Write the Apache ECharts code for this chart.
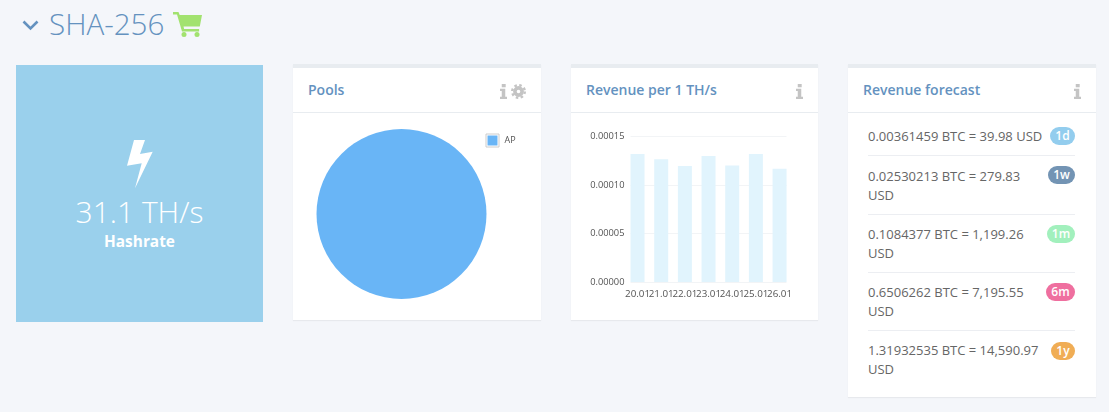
<!DOCTYPE html>
<html><head><meta charset="utf-8">
<script src="https://cdn.jsdelivr.net/npm/echarts@6/dist/echarts.min.js"></script>
<style>
html,body{margin:0;padding:0;width:1109px;height:412px;overflow:hidden;background:#f4f6fa;font-family:"Open Sans",sans-serif}
.abs{position:absolute}
.title{left:49px;top:5px;font-size:29.6px;font-weight:300;color:#6492bf;line-height:38px}
.tile{left:16px;top:65px;width:247px;height:257px;background:#9ad0ec;color:#fff;text-align:center}
.tile .v{position:absolute;left:0;right:0;top:127px;font-size:30px;font-weight:300;line-height:40px}
.tile .l{position:absolute;left:0;right:0;top:166px;font-size:15.4px;font-weight:700;line-height:22px}
.card{background:#fff;border-top:4px solid #e8ecf0;box-shadow:0 1px 1px rgba(0,0,0,.05);box-sizing:border-box}
.card .h{position:absolute;left:0;right:0;top:0;height:44px;border-bottom:1px solid #e8ecf0}
.card .t{position:absolute;left:15px;top:11px;font-size:14px;font-weight:600;color:#6492bf;line-height:22px}
.row{position:absolute;left:20px;font-size:13px;color:#666;line-height:19px}
.sep{position:absolute;left:20px;width:207px;height:1px;background:#eceef2}
.badge{position:absolute;right:21px;height:18px;line-height:17px;border-radius:9px;color:#fff;font-size:12px;font-weight:600;text-align:center}
.chart{position:absolute}
</style></head><body>
<svg class="abs" style="left:22px;top:20px" width="17" height="11" viewBox="0 0 17 11"><path d="M1.5 1.5 L8.5 8.5 L15.5 1.5" fill="none" stroke="#6492bf" stroke-width="2.6"/></svg>
<div class="abs title">SHA-256</div>
<svg class="abs" style="left:173px;top:12px" width="29" height="25" viewBox="0 0 29 25"><path fill="#a2e26f" d="M0 0h5.5l1.2 3H29l-2.2 11.5H10.5l.6 2.5h15v2.5H9L4 2.5H0z"/><circle cx="11" cy="22.5" r="2.5" fill="#a2e26f"/><circle cx="24" cy="22.5" r="2.5" fill="#a2e26f"/></svg>

<div class="abs tile">
<svg class="abs" style="left:111px;top:75px" width="26" height="49" viewBox="0 0 26 49"><path fill="#fff" d="M7 0H18L13 14 25.700 11.700 8 48.300 14.700 23.300 0 25.700z"/></svg>
<div class="v">31.1 TH/s</div><div class="l">Hashrate</div>
</div>

<div class="abs card" style="left:293px;top:64px;width:248px;height:256px"><div class="h"></div><div class="t">Pools</div>
<svg class="abs" style="left:206.500px;top:16px" width="7" height="15" viewBox="0 0 8 16" preserveAspectRatio="none"><rect x="2" width="4.500" height="3.500" fill="#c4c4c4"/><path fill="#c4c4c4" d="M0 5h6v8.500h2V16H0v-2.500h2V7.500H0z"/></svg>
<svg class="abs" style="left:218px;top:16px" width="15" height="15" viewBox="0 0 15 15"><circle cx="7.500" cy="7.500" r="3.600" fill="none" stroke="#c4c4c4" stroke-width="3.600"/><circle cx="7.500" cy="7.500" r="6.300" fill="none" stroke="#c4c4c4" stroke-width="2.400" stroke-dasharray="2.500 2.450"/></svg>
</div>
<div class="abs card" style="left:571px;top:64px;width:247px;height:256px"><div class="h"></div><div class="t">Revenue per 1 TH/s</div>
<svg class="abs" style="left:225px;top:16px" width="7" height="15" viewBox="0 0 8 16" preserveAspectRatio="none"><rect x="2" width="4.500" height="3.500" fill="#c4c4c4"/><path fill="#c4c4c4" d="M0 5h6v8.500h2V16H0v-2.500h2V7.500H0z"/></svg>
</div>
<div class="abs card" id="fc" style="left:848px;top:64px;width:248px;height:333px"><div class="h"></div><div class="t">Revenue forecast</div>
<svg class="abs" style="left:226px;top:16px" width="7" height="15" viewBox="0 0 8 16" preserveAspectRatio="none"><rect x="2" width="4.500" height="3.500" fill="#c4c4c4"/><path fill="#c4c4c4" d="M0 5h6v8.500h2V16H0v-2.500h2V7.500H0z"/></svg>
</div>

<div class="chart" id="pie" style="left:293px;top:113px;width:248px;height:205px"></div>
<div class="chart" id="bar" style="left:571px;top:113px;width:247px;height:205px"></div>

<script>
var poolNames = ['AP'];
var poolShares = [100];
var days = ['20.01','21.01','22.01','23.01','24.01','25.01','26.01'];
var revenue = [0.000132,0.0001265,0.0001196,0.00013,0.00012,0.000132,0.0001168];
var forecastText = ['0.00361459 BTC = 39.98 USD','0.02530213 BTC = 279.83 USD','0.1084377 BTC = 1,199.26 USD','0.6506262 BTC = 7,195.55 USD','1.31932535 BTC = 14,590.97 USD'];
var forecastBadge = ['1d','1w','1m','6m','1y'];
var badgeColor = ['#93cdee','#7394b4','#a2f0bd','#ef6f9f','#f0ad55'];
var rowTop = [59,99,157,215,273];
var badgeTop = [59,98,157,215,274];
var rowWidth = [180,175,175,175,180];
var badgeW = [25,27,28,29,24];
var sepTop = [87,146,204,262];

var fc = document.getElementById('fc');
forecastText.forEach(function(t,i){
  var r=document.createElement('div');r.className='row';r.style.top=rowTop[i]+'px';
  r.style.width=rowWidth[i]+'px';r.textContent=t;fc.appendChild(r);
  var b=document.createElement('div');b.className='badge';b.style.top=badgeTop[i]+'px';b.style.width=badgeW[i]+'px';
  b.style.background=badgeColor[i];b.textContent=forecastBadge[i];fc.appendChild(b);
});
sepTop.forEach(function(y){var s=document.createElement('div');s.className='sep';s.style.top=y+'px';fc.appendChild(s);});

var F='"Open Sans",sans-serif';
echarts.init(document.getElementById('pie')).setOption({
  animation:false,
  graphic:[{type:'rect',left:192.5,top:20.5,shape:{width:13,height:13},style:{fill:'#fff',stroke:'#ccc',lineWidth:1}}],
  legend:{data:poolNames,left:194.5,top:22.5,orient:'vertical',itemWidth:10,itemHeight:10,itemGap:4,icon:'rect',selectedMode:false,
    textStyle:{fontSize:9,color:'#545454',fontFamily:F,padding:[0,0,0,2]},padding:0},
  series:[{type:'pie',radius:85,center:[108.5,101],silent:true,label:{show:false},labelLine:{show:false},
    itemStyle:{color:'#69b5f6'},
    data:poolNames.map(function(n,i){return {name:n,value:poolShares[i]};})}]
});
echarts.init(document.getElementById('bar')).setOption({
  animation:false,
  grid:[{left:59.500,width:156,top:23.500,height:145.500},{left:54.700,width:165.700,top:23.500,height:145.500}],
  xAxis:[{type:'category',gridIndex:0,data:days,show:false},
    {type:'category',gridIndex:1,data:days,axisLine:{show:false},axisTick:{show:false},
     axisLabel:{interval:0,hideOverlap:false,fontSize:9.8,color:'#545454',fontFamily:F,margin:7}}],
  yAxis:[{type:'value',gridIndex:0,min:0,max:0.00015,interval:0.00005,axisLine:{show:false},axisTick:{show:false},
     axisLabel:{formatter:function(v){return v.toFixed(5);},fontSize:9.3,color:'#545454',fontFamily:F,margin:6,padding:[4,0,0,0]},
     splitLine:{lineStyle:{color:'#f2f4f6',width:1}}},
    {type:'value',gridIndex:1,min:0,max:0.00015,interval:0.00005,show:false}],
  series:[{type:'bar',xAxisIndex:1,yAxisIndex:1,barWidth:14,itemStyle:{color:'#e1f4fd'},silent:true,data:revenue}]
});
</script>
</body></html>
